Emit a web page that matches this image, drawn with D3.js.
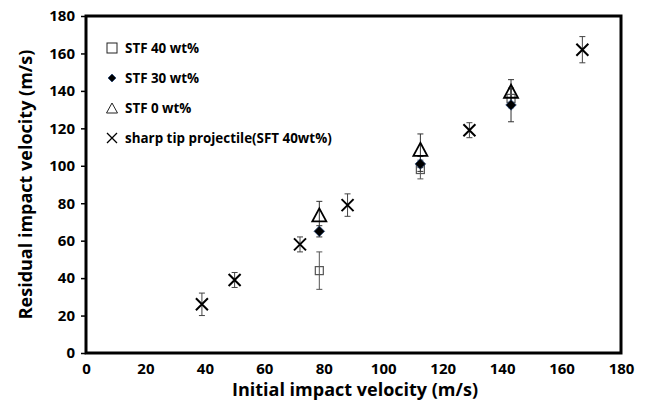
<!DOCTYPE html>
<html>
<head>
<meta charset="utf-8">
<script src="https://cdn.jsdelivr.net/npm/d3@7"></script>
<style>
  body { margin: 0; background: #fff; }
  svg { display: block; }
  .tick text { font: bold 15px "Open Sans", sans-serif; fill: #000; }
  .axis-title { font: bold 18px "Open Sans", sans-serif; fill: #000; }
  .legend text { font: bold 13.4px "Open Sans", sans-serif; fill: #000; }
</style>
</head>
<body>
<div id="chart"></div>
<script>
// data: [initial velocity, residual velocity, error]
var stf40 = [[78.5, 44, 10], [112.5, 98, 5], [143, 136, 5]];
var stf30 = [[78.5, 65, 3], [112.5, 101, 4], [143, 132.5, 9]];
var stf0 = [[78.5, 73, 8], [112.5, 108, 9], [143, 139, 7]];
var sharpTip = [[39, 26, 6], [50, 39, 4], [72, 58, 4], [88, 79, 6], [129, 119, 4], [167, 162, 7]];

var legendLabels = ["STF 40 wt%", "STF 30 wt%", "STF 0 wt%", "sharp tip projectile(SFT 40wt%)"];
var xTicks = [0, 20, 40, 60, 80, 100, 120, 140, 160, 180];
var yTicks = [0, 20, 40, 60, 80, 100, 120, 140, 160, 180];

var W = 646, H = 405,
    pLeft = 86, pRight = 621, pTop = 16, pBottom = 353;

var svg = d3.select("#chart").append("svg")
    .attr("width", W)
    .attr("height", H);

var x = d3.scaleLinear().domain([0, 180]).range([pLeft, pRight]),
    y = d3.scaleLinear().domain([0, 180]).range([pBottom, pTop]);

// axes
var yAxis = d3.axisLeft(y).tickValues(yTicks).tickSize(5).tickPadding(6);
var xAxis = d3.axisBottom(x).tickValues(xTicks).tickSize(0).tickPadding(10);

var gy = svg.append("g")
    .attr("transform", "translate(" + pLeft + ",0)")
    .call(yAxis);
gy.select(".domain").remove();
gy.selectAll(".tick line").attr("stroke", "#000").attr("stroke-width", 1.5);

var gx = svg.append("g")
    .attr("transform", "translate(0," + pBottom + ")")
    .call(xAxis);
gx.select(".domain").remove();

// frame
svg.append("rect")
    .attr("x", pLeft)
    .attr("y", pTop)
    .attr("width", pRight - pLeft)
    .attr("height", pBottom - pTop)
    .attr("fill", "none")
    .attr("stroke", "#000")
    .attr("stroke-width", 3);

svg.append("text")
    .attr("class", "axis-title")
    .attr("text-anchor", "middle")
    .attr("x", 355)
    .attr("y", 396)
    .text("Initial impact velocity (m/s)");

svg.append("text")
    .attr("class", "axis-title")
    .attr("text-anchor", "middle")
    .attr("transform", "translate(32," + ((pTop + pBottom) / 2) + ") rotate(-90)")
    .text("Residual impact velocity (m/s)");

// error bars
function errorBars(data, color) {
    var g = svg.append("g").attr("stroke", color).attr("stroke-width", 1);
    data.forEach(function(d) {
        var cx = x(d[0]), y0 = y(d[1] - d[2]), y1 = y(d[1] + d[2]);
        g.append("line").attr("x1", cx).attr("x2", cx).attr("y1", y0).attr("y2", y1);
        g.append("line").attr("x1", cx - 3).attr("x2", cx + 3).attr("y1", y0).attr("y2", y0);
        g.append("line").attr("x1", cx - 3).attr("x2", cx + 3).attr("y1", y1).attr("y2", y1);
    });
}

var markers = {
    square: function(g, cx, cy) {
        g.append("rect").attr("x", cx - 4).attr("y", cy - 4).attr("width", 8).attr("height", 8)
            .attr("fill", "none").attr("stroke", "#555").attr("stroke-width", 1.2);
    },
    diamond: function(g, cx, cy) {
        g.append("path").attr("d", d3.symbol(d3.symbolDiamond2, 70)())
            .attr("transform", "translate(" + cx + "," + cy + ")")
            .attr("fill", "#000").attr("stroke", "#1f3f6f").attr("stroke-width", 0.8);
    },
    triangle: function(g, cx, cy) {
        g.append("path").attr("d", "M0,-8L7,5L-7,5Z")
            .attr("transform", "translate(" + cx + "," + cy + ")")
            .attr("fill", "none").attr("stroke", "#000").attr("stroke-width", 1.8);
    },
    cross: function(g, cx, cy) {
        g.append("path").attr("d", "M-6,-6L6,6M-6,6L6,-6")
            .attr("transform", "translate(" + cx + "," + cy + ")")
            .attr("stroke", "#000").attr("stroke-width", 2);
    }
};

function series(data, kind) {
    var g = svg.append("g");
    data.forEach(function(d) { markers[kind](g, x(d[0]), y(d[1])); });
}

errorBars(stf40, "#555");
errorBars(stf30, "#333");
errorBars(stf0, "#333");
errorBars(sharpTip, "#444");
series(stf40, "square");
series(stf30, "diamond");
series(stf0, "triangle");
series(sharpTip, "cross");

// legend
var kinds = ["square", "diamond", "triangle", "cross"];
var legend = svg.append("g").attr("class", "legend");
legendLabels.forEach(function(label, i) {
    var ly = 48 + i * 30;
    var g = legend.append("g");
    if (kinds[i] === "square") {
        g.append("rect").attr("x", 107).attr("y", ly - 5).attr("width", 10).attr("height", 10)
            .attr("fill", "none").attr("stroke", "#222").attr("stroke-width", 1);
    } else if (kinds[i] === "diamond") {
        g.append("path").attr("d", d3.symbol(d3.symbolDiamond2, 40)())
            .attr("transform", "translate(112," + ly + ")")
            .attr("fill", "#000").attr("stroke", "#1f3f6f").attr("stroke-width", 0.8);
    } else if (kinds[i] === "triangle") {
        g.append("path").attr("d", "M0,-5L5.5,5L-5.5,5Z")
            .attr("transform", "translate(112," + ly + ")")
            .attr("fill", "none").attr("stroke", "#222").attr("stroke-width", 1);
    } else {
        g.append("path").attr("d", "M-5,-5L5,5M-5,5L5,-5")
            .attr("transform", "translate(112," + ly + ")")
            .attr("stroke", "#000").attr("stroke-width", 1.3);
    }
    g.append("text").attr("x", 125).attr("y", ly + 5).text(label);
});
</script>
</body>
</html>
